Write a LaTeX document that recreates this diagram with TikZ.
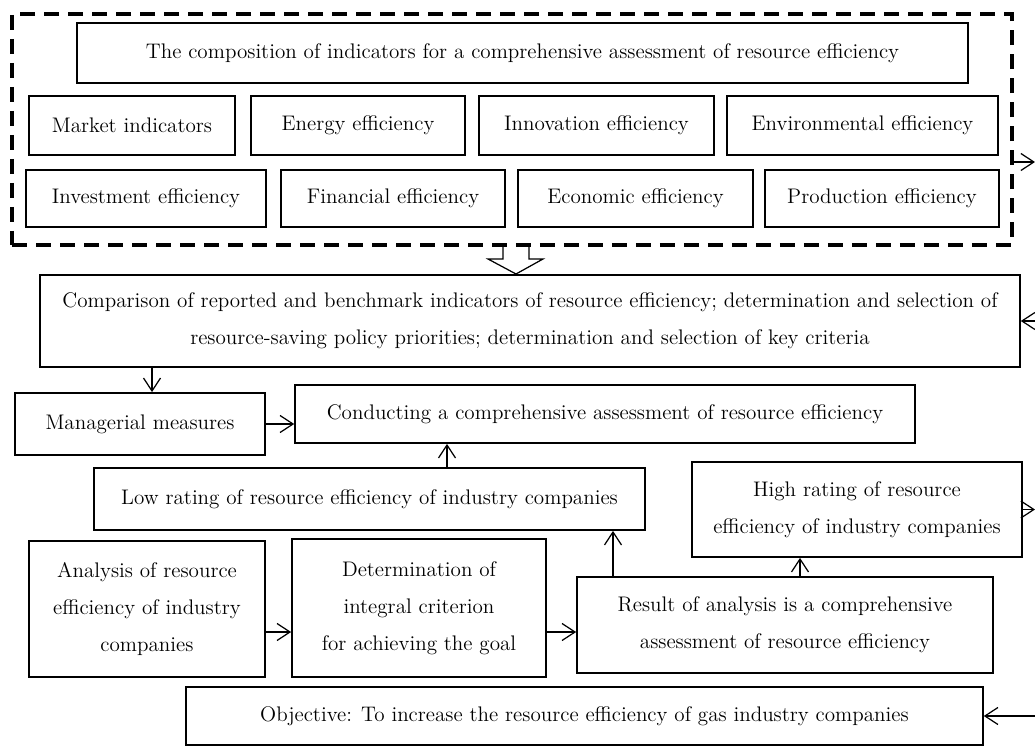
\documentclass[tikz,border=0pt]{standalone}
\usetikzlibrary{arrows.meta,calc}
\begin{document}
\begin{tikzpicture}[x=0.02cm, y=-0.02cm,
        box/.style={draw, rectangle, line width=1pt, align=center, inner sep=2pt, font=\fontsize{12}{21}\selectfont},
        group/.style={draw, rectangle, line width=1.9pt, dash pattern=on 0.3cm off 0.18cm},
        arr/.style={-{Straight Barb[length=2.6mm,width=3.4mm]}, line width=0.7pt}]
        \useasboundingbox (0,0) rectangle (1035,747);

        \node[group, minimum width=20cm, minimum height=4.62cm] (indicators) at (512,129.5) {};
        \node[box, minimum width=17.82cm, minimum height=1.2cm] (title) at (522.5,53) {The composition of indicators for a comprehensive assessment of resource efficiency};

        \node[box, minimum width=4.12cm, minimum height=1.18cm] (market) at (132,125.5) {Market indicators};
        \node[box, minimum width=4.28cm, minimum height=1.18cm] (energy) at (358,125.5) {Energy efficiency};
        \node[box, minimum width=4.70cm, minimum height=1.18cm] (innovation) at (596.5,125.5) {Innovation efficiency};
        \node[box, minimum width=5.42cm, minimum height=1.18cm] (environment) at (862.5,125.5) {Environmental efficiency};

        \node[box, minimum width=4.80cm, minimum height=1.14cm] (investment) at (146,198.5) {Investment efficiency};
        \node[box, minimum width=4.48cm, minimum height=1.14cm] (financial) at (393,198.5) {Financial efficiency};
        \node[box, minimum width=4.70cm, minimum height=1.14cm] (economic) at (635.5,198.5) {Economic efficiency};
        \node[box, minimum width=4.68cm, minimum height=1.14cm] (production) at (882,198.5) {Production efficiency};

        \node[box, minimum width=19.6cm, minimum height=1.84cm] (comparison) at (530,321) {Comparison of reported and benchmark indicators of resource efficiency; determination and selection of\\resource-saving policy priorities; determination and selection of key criteria};

        \node[box, minimum width=5.0cm, minimum height=1.24cm] (managerial) at (140,424) {Managerial measures};
        \node[box, minimum width=12.4cm, minimum height=1.16cm] (conducting) at (605,414) {Conducting a comprehensive assessment of resource efficiency};
        \node[box, minimum width=11.02cm, minimum height=1.24cm] (low) at (369.5,499) {Low rating of resource efficiency of industry companies};
        \node[box, minimum width=6.6cm, minimum height=1.9cm] (high) at (857,509.5) {High rating of resource\\efficiency of industry companies};

        \node[box, minimum width=4.72cm, minimum height=2.72cm] (analysis) at (147,609) {Analysis of resource\\efficiency of industry\\companies};
        \node[box, minimum width=5.08cm, minimum height=2.76cm] (determination) at (419,608) {Determination of\\integral criterion\\for achieving the goal};
        \node[box, minimum width=8.32cm, minimum height=1.92cm] (result) at (785,625) {Result of analysis is a comprehensive\\assessment of resource efficiency};
        \node[box, minimum width=15.94cm, minimum height=1.16cm] (objective) at (584.5,716) {Objective: To increase the resource efficiency of gas industry companies};

        \coordinate (xa) at (152,0);
        \coordinate (xb) at (447,0);
        \coordinate (xc) at (613,0);
        \coordinate (xd) at (800,0);
        \coordinate (ya) at (0,632);
        \coordinate (out1) at (1035,162);
        \coordinate (in1) at (1035,321);
        \coordinate (out2) at (1035,509.5);
        \coordinate (in2) at (1035,716);

        \draw[line width=0.7pt] (503,245) -- (503,259) -- (488,259) -- (516,274) -- (543,259) -- (529,259) -- (529,245);

        \draw[arr] (indicators.east |- out1) -- (out1);
        \draw[arr] (in1) -- (comparison.east);
        \draw[arr] (comparison.south -| xa) -- (managerial.north -| xa);
        \draw[arr] (managerial.east) -- (managerial.east -| conducting.west);
        \draw[arr] (low.north -| xb) -- (conducting.south -| xb);
        \draw[arr] (result.north -| xc) -- (low.south -| xc);
        \draw[arr] (result.north -| xd) -- (high.south -| xd);
        \draw[arr] (high.east) -- (out2);
        \draw[arr] (analysis.east |- ya) -- (determination.west |- ya);
        \draw[arr] (determination.east |- ya) -- (result.west |- ya);
        \draw[arr] (in2) -- (objective.east);
    \end{tikzpicture}
\end{document}
